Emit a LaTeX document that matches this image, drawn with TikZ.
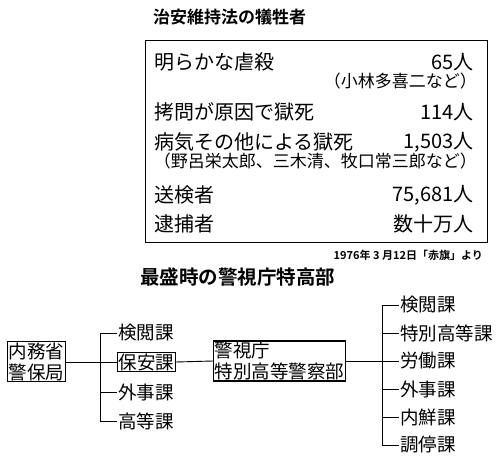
\documentclass[tikz,border=0pt]{standalone}
\usepackage{fontspec}
\setmainfont{Noto Sans CJK JP}
\newfontfamily\cjk{Noto Sans CJK JP}
\newfontfamily\cjkb{Noto Sans CJK JP Bold}
\usetikzlibrary{positioning}
\begin{document}
\begin{tikzpicture}[x=1pt,y=-1pt,
  big/.style={font=\cjk\fontsize{20}{22}\selectfont, inner sep=0pt},
  small/.style={font=\cjk\fontsize{17}{18}\selectfont, inner sep=0pt},
  ttl/.style={font=\cjkb\fontsize{17}{19}\selectfont, inner sep=0pt},
  item/.style={font=\cjk\fontsize{18.5}{21}\selectfont, inner sep=1pt, anchor=west},
  ubox/.style={draw, line width=1.2pt, font=\cjk\fontsize{18.5}{21}\selectfont, inner sep=1pt, align=left},
  ln/.style={line width=0.9pt}]
\useasboundingbox (0,0) rectangle (500,468);
% top table
\node[ttl, anchor=west] (t1) at (153,17) {治安維持法の犠牲者};
\node[draw, line width=1.4pt, minimum width=342pt, minimum height=202pt, anchor=north west, inner sep=0pt] (tbl) at (145,40) {};
\node[big, anchor=west] (r1) at (154,62) {明らかな虐殺};
\node[big, anchor=east] (v1) at (474,62) {65人};
\node[small, anchor=east] (n1) at (477,81) {（小林多喜二など）};
\node[big, anchor=west] (r2) at (154,112) {拷問が原因で獄死};
\node[big, anchor=east] (v2) at (474,112) {114人};
\node[big, anchor=west] (r3) at (154,142) {病気その他による獄死};
\node[big, anchor=east] (v3) at (474,142) {1,503人};
\node[small, anchor=east] (n3) at (477,161) {（野呂栄太郎、三木清、牧口常三郎など）};
\node[big, anchor=west] (r4) at (154,195) {送検者};
\node[big, anchor=east] (v4) at (474,195) {75,681人};
\node[big, anchor=west] (r5) at (154,224) {逮捕者};
\node[big, anchor=east] (v5) at (474,224) {数十万人};
\node[font=\cjkb\fontsize{11}{12}\selectfont, inner sep=0pt, anchor=east] (src) at (483,255) {1976年 3 月12日「赤旗」より};
% organization chart
\node[font=\cjkb\fontsize{19.5}{21}\selectfont, inner sep=0pt, anchor=west] (t2) at (140,277) {最盛時の警視庁特高部};
\node[ubox] (naimu) at (36.5,361.5) {内務省\\警保局};
\node[ubox, anchor=west] (hoan) at (117,362) {保安課};
\node[item] (a1) at (117,333) {検閲課};
\node[item] (a3) at (117,392) {外事課};
\node[item] (a4) at (117,421) {高等課};
\node[ubox, anchor=west, minimum width=132pt] (keishi) at (213,361) {警視庁\\特別高等警察部};
\coordinate (va) at (100,362);
\draw[ln] (naimu.east |- va) -- (hoan.west);
\draw[ln] (a1.west) -| (va |- a4.west) -- (a4.west);
\draw[ln] (va |- a3.west) -- (a3.west);
\draw[ln] (hoan.east) -- (keishi.west);
\node[item] (b1) at (399,305) {検閲課};
\node[item] (b2) at (399,333) {特別高等課};
\node[item] (b3) at (399,361) {労働課};
\node[item] (b4) at (399,389) {外事課};
\node[item] (b5) at (399,417) {内鮮課};
\node[item] (b6) at (399,445) {調停課};
\coordinate (vb) at (382,361);
\draw[ln] (b1.west) -| (vb |- b6.west) -- (b6.west);
\draw[ln] (keishi.east) -- (b3.west);
\draw[ln] (vb |- b2.west) -- (b2.west);
\draw[ln] (vb |- b4.west) -- (b4.west);
\draw[ln] (vb |- b5.west) -- (b5.west);
\end{tikzpicture}
\end{document}
